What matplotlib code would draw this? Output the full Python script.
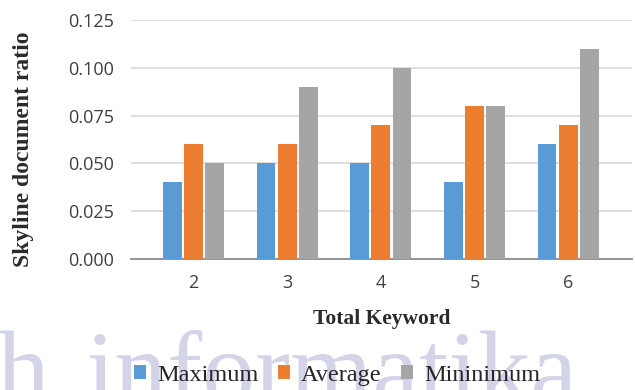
import matplotlib.pyplot as plt
import numpy as np

# total keyword count on the x axis
keywords = ["2", "3", "4", "5", "6"]
maximum = [0.04, 0.05, 0.05, 0.04, 0.06]
average = [0.06, 0.06, 0.07, 0.08, 0.07]
minimum = [0.05, 0.09, 0.10, 0.08, 0.11]
y_ticks = [0.000, 0.025, 0.050, 0.075, 0.100, 0.125]

BLUE = "#5B9BD5"
ORANGE = "#ED7D31"
GRAY = "#A5A5A5"

fig = plt.figure(figsize=(6.35, 3.9), dpi=100)

# faint watermark behind everything
wm = dict(fontsize=76, family="Liberation Serif", color="#d4d4e8",
          ha="left", va="baseline", zorder=0)
fig.text(-0.005, -0.035, "h", **wm)
fig.text(0.135, -0.035, "informatika", **wm)

ax = fig.add_axes([0.206, 0.336, 0.789, 0.613])
ax.patch.set_alpha(0)

x = np.arange(len(keywords))
w = 0.2
step = 0.225
ax.bar(x - step, maximum, w, color=BLUE, label="Maximum", zorder=3)
ax.bar(x, average, w, color=ORANGE, label="Average", zorder=3)
ax.bar(x + step, minimum, w, color=GRAY, label="Mininimum", zorder=3)

ax.set_xlim(-0.67, 4.68)
ax.set_ylim(0, 0.125)
ax.set_yticks(y_ticks)
ax.set_yticklabels([f"{v:.3f}" for v in y_ticks])
ax.set_xticks(x)
ax.set_xticklabels(keywords)
ax.yaxis.grid(True, color="#d9d9d9", linewidth=1.2, zorder=0)
ax.set_axisbelow(True)

for side in ["top", "right", "left"]:
    ax.spines[side].set_visible(False)
ax.spines["bottom"].set_color("#8c8c8c")
ax.spines["bottom"].set_linewidth(1.3)
ax.tick_params(axis="both", length=0, labelsize=13, colors="#404040")
ax.tick_params(axis="y", pad=12)
ax.tick_params(axis="x", pad=11)
for lbl in ax.get_xticklabels() + ax.get_yticklabels():
    lbl.set_family("Open Sans")

fig.text(0.037, 0.618, "Skyline document ratio", rotation=90, ha="center", va="center",
         family="Liberation Serif", fontweight="bold", fontsize=17, color="#2b2b2b")
ax.set_xlabel("Total Keyword", family="Liberation Serif", fontweight="bold",
              fontsize=15.5, color="#2b2b2b", labelpad=12)

leg = fig.legend(loc="center", bbox_to_anchor=(0.531, 0.038), ncol=3, frameon=False,
                 prop={"family": "Liberation Serif", "size": 17.5}, handlelength=0.5,
                 handleheight=0.5, handletextpad=0.45, columnspacing=0.8,
                 borderpad=0, borderaxespad=0)
for t in leg.get_texts():
    t.set_color("#262626")

fig.savefig("out.png", dpi=100)
